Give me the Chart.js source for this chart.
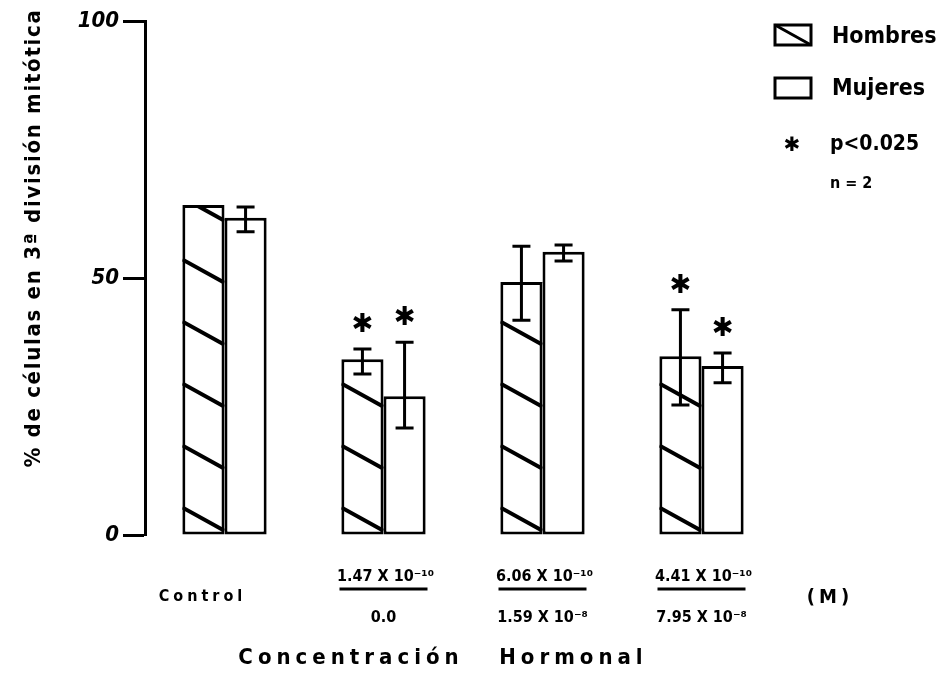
<!DOCTYPE html>
<html lang="es">
<head>
<meta charset="UTF-8">
<title>Células en 3ª división mitótica</title>
<script src="https://cdn.jsdelivr.net/npm/chart.js"></script>
<style>
  body { margin: 0; background: #fff; }
  #wrap { position: relative; width: 952px; height: 677px; }
</style>
</head>
<body>
<div id="wrap"><canvas id="chart"></canvas></div>
<script>
// datos
var categories = ['Control', 'G1', 'G2', 'G3'];
var labelsTop = ['', '1.47 X 10⁻¹⁰', '6.06 X 10⁻¹⁰', '4.41 X 10⁻¹⁰'];
var labelsBottom = ['', '0.0', '1.59 X 10⁻⁸', '7.95 X 10⁻⁸'];
var hombres = [64.2, 34.2, 49.2, 34.8];
var hombresLow = [null, 31.3, 41.8, 25.3];
var hombresHigh = [null, 36.2, 56.2, 43.8];
var mujeres = [61.7, 27.0, 55.1, 32.9];
var mujeresLow = [59.0, 20.8, 53.3, 29.6];
var mujeresHigh = [63.8, 37.5, 56.4, 35.4];
var sigHombres = [false, true, false, true];
var sigMujeres = [false, true, false, true];
var yTicks = [0, 50, 100];

var FONT = "'Liberation Sans Narrow', 'DejaVu Sans Condensed', 'Roboto Condensed', sans-serif";

var errLow = [hombresLow, mujeresLow];
var errHigh = [hombresHigh, mujeresHigh];
var sig = [sigHombres, sigMujeres];

var overlay = {
  id: 'overlay',
  afterDatasetsDraw: function(chart) {
    var ctx = chart.ctx, ys = chart.scales.y;
    ctx.save();
    ctx.strokeStyle = '#000';
    ctx.fillStyle = '#000';

    // rayado de Hombres
    chart.getDatasetMeta(0).data.forEach(function(bar) {
      var l = bar.x - bar.width / 2, r = bar.x + bar.width / 2;
      var t = bar.y, b = bar.base;
      ctx.save();
      ctx.beginPath(); ctx.rect(l, t, r - l, b - t); ctx.clip();
      ctx.lineWidth = 4;
      for (var y0 = b - 27; y0 > t - 40; y0 -= 62) {
        ctx.beginPath();
        ctx.moveTo(l, y0);
        ctx.lineTo(r, y0 + 0.55 * (r - l));
        ctx.stroke();
      }
      ctx.restore();
    });

    // barras de error y asteriscos
    [0, 1].forEach(function(d) {
      chart.getDatasetMeta(d).data.forEach(function(bar, j) {
        var top = bar.y;
        if (errLow[d][j] != null) {
          var yl = ys.getPixelForValue(errLow[d][j]);
          var yh = ys.getPixelForValue(errHigh[d][j]);
          ctx.lineWidth = 3;
          ctx.beginPath();
          ctx.moveTo(bar.x, yl); ctx.lineTo(bar.x, yh);
          ctx.moveTo(bar.x - 9, yl); ctx.lineTo(bar.x + 9, yl);
          ctx.moveTo(bar.x - 9, yh); ctx.lineTo(bar.x + 9, yh);
          ctx.stroke();
          top = Math.min(top, yh);
        }
        if (sig[d][j]) {
          ctx.font = "bold 26px 'DejaVu Sans'";
          ctx.textAlign = 'center';
          ctx.textBaseline = 'middle';
          ctx.fillText('✱', bar.x, top - 24);
        }
      });
    });
    ctx.restore();
  },
  afterDraw: function(chart) {
    var ctx = chart.ctx, xs = chart.scales.x;
    ctx.save();
    ctx.fillStyle = '#000';
    ctx.strokeStyle = '#000';

    // titulo eje y
    ctx.save();
    ctx.translate(34, 238);
    ctx.rotate(-Math.PI / 2);
    ctx.font = 'bold 22px ' + FONT;
    ctx.letterSpacing = '1.7px';
    ctx.textAlign = 'center';
    ctx.textBaseline = 'middle';
    ctx.fillText('% de células en 3ª división mitótica', 0, 0);
    ctx.restore();

    // etiquetas de concentracion
    ctx.font = 'bold 16px ' + FONT;
    ctx.letterSpacing = '0px';
    ctx.textAlign = 'center';
    ctx.textBaseline = 'middle';
    categories.forEach(function(c, i) {
      var px = xs.getPixelForValue(i);
      if (!labelsTop[i]) {
        ctx.letterSpacing = '4px';
        ctx.fillText(c, px - 22, 597);
        ctx.letterSpacing = '0px';
        return;
      }
      ctx.fillText(labelsTop[i], px + 2, 577);
      ctx.lineWidth = 3;
      ctx.beginPath();
      ctx.moveTo(px - 44, 589); ctx.lineTo(px + 44, 589);
      ctx.stroke();
      ctx.fillText(labelsBottom[i], px, 618);
    });
    ctx.font = 'bold 20px ' + FONT;
    ctx.letterSpacing = '4px';
    ctx.fillText('(M)', 830, 598);

    ctx.font = 'bold 22px ' + FONT;
    ctx.letterSpacing = '5px';
    ctx.fillText('Concentración   Hormonal', 443, 658);

    // leyenda
    ctx.letterSpacing = '0px';
    ctx.lineWidth = 3;
    ctx.strokeRect(775, 25, 36, 20);
    ctx.beginPath(); ctx.moveTo(775, 25); ctx.lineTo(811, 45); ctx.stroke();
    ctx.strokeRect(775, 78, 36, 20);
    ctx.textAlign = 'left';
    ctx.font = 'bold 23px ' + FONT;
    ctx.fillText('Hombres', 832, 37);
    ctx.fillText('Mujeres', 832, 89);
    ctx.font = "bold 20px 'DejaVu Sans'";
    ctx.textAlign = 'center';
    ctx.fillText('✱', 792, 146);
    ctx.textAlign = 'left';
    ctx.font = 'bold 21px ' + FONT;
    ctx.fillText('p<0.025', 830, 145);
    ctx.font = 'bold 16px ' + FONT;
    ctx.fillText('n = 2', 830, 184);
    ctx.restore();
  }
};

var ctx = document.getElementById('chart').getContext('2d');
var chart = new Chart(ctx, {
  type: 'bar',
  data: {
    labels: categories,
    datasets: [
      { label: 'Hombres', data: hombres, backgroundColor: '#fff', borderColor: '#000', borderWidth: 3, borderSkipped: false },
      { label: 'Mujeres', data: mujeres, backgroundColor: '#fff', borderColor: '#000', borderWidth: 3, borderSkipped: false }
    ]
  },
  options: {
    responsive: true,
    maintainAspectRatio: false,
    animation: false,
    layout: { padding: { top: 21, right: 171, left: 0, bottom: 0 } },
    datasets: { bar: { categoryPercentage: 0.53, barPercentage: 1.0 } },
    plugins: { legend: { display: false }, tooltip: { enabled: false } },
    scales: {
      x: {
        ticks: { display: false },
        grid: { display: false },
        border: { display: false },
        afterFit: function(s) { s.height = 142; }
      },
      y: {
        min: 0, max: 100,
        afterBuildTicks: function(s) { s.ticks = yTicks.map(function(v) { return { value: v }; }); },
        ticks: { color: '#000', padding: 4, font: { family: FONT, size: 22, style: 'italic', weight: 'bold' } },
        grid: { drawOnChartArea: false, tickLength: 22, tickWidth: 3, tickColor: '#000' },
        border: { display: true, width: 3, color: '#000' },
        afterFit: function(s) { s.width = 145; }
      }
    }
  },
  plugins: [overlay]
});
</script>
</body>
</html>
